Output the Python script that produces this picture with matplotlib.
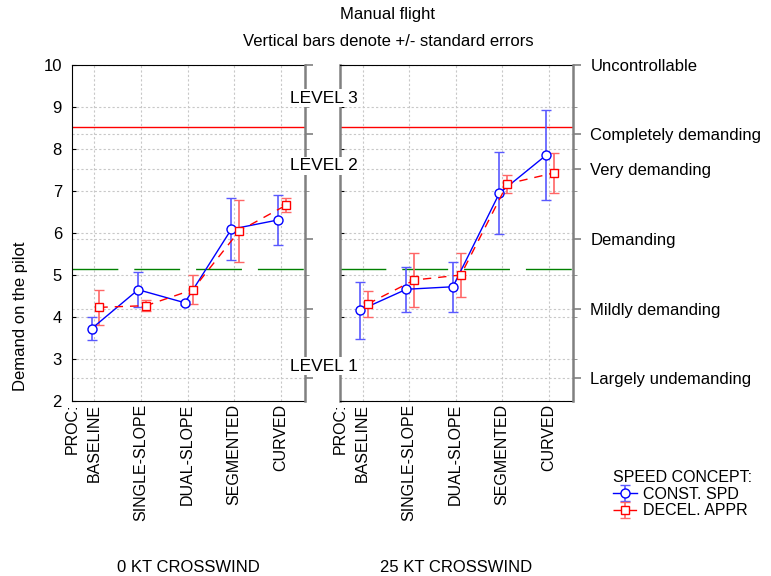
import matplotlib
matplotlib.use("Agg")
import matplotlib.pyplot as plt
import matplotlib.transforms as mtransforms
import numpy as np

plt.rcParams['font.family'] = ['Liberation Sans', 'DejaVu Sans']
plt.rcParams['font.size'] = 12

procedures = ["BASELINE", "SINGLE-SLOPE", "DUAL-SLOPE", "SEGMENTED", "CURVED"]
crosswinds = ["0 KT CROSSWIND", "25 KT CROSSWIND"]

# mean rating and standard error, one list per crosswind panel
const_mean = [[3.72, 4.65, 4.34, 6.09, 6.31], [4.16, 4.66, 4.72, 6.95, 7.85]]
const_se = [[0.27, 0.41, 0.05, 0.74, 0.60], [0.68, 0.53, 0.59, 0.97, 1.07]]
decel_mean = [[4.23, 4.27, 4.65, 6.05, 6.66], [4.31, 4.88, 5.00, 7.17, 7.43]]
decel_se = [[0.42, 0.13, 0.35, 0.74, 0.17], [0.32, 0.65, 0.53, 0.22, 0.48]]

rating_pos = [10, 8.35, 7.52, 5.86, 4.19, 2.54]
rating_labels = ["Uncontrollable", "Completely demanding", "Very demanding",
                 "Demanding", "Mildly demanding", "Largely undemanding"]

levels = ["LEVEL 3", "LEVEL 2", "LEVEL 1"]
level_pos = [9.21, 7.60, 2.83]
level_limit_23 = 8.52
level_limit_12 = 5.14

W, H = 771, 576
fig = plt.figure(figsize=(W / 100, H / 100), dpi=100)


def px_rect(x0, x1, y0, y1):
    return [x0 / W, 1 - y1 / H, (x1 - x0) / W, (y1 - y0) / H]


axes = [fig.add_axes(px_rect(71.7, 305, 65, 401)),
        fig.add_axes(px_rect(340, 573, 65, 401))]
x = np.arange(len(procedures))
blue_e = (0.35, 0.35, 1.0)
red_e = (1.0, 0.4, 0.4)

for i, ax in enumerate(axes):
    ax.set_xlim(-0.485, 4.52)
    ax.set_ylim(2, 10)
    ax.axhline(level_limit_23, color='red', lw=1, zorder=1.5)
    ax.axhline(level_limit_12, color='green', lw=1, dashes=(33, 11.5), zorder=1.5)

    eb1 = ax.errorbar(x - 0.06, const_mean[i], yerr=const_se[i], color='blue', lw=1,
                      marker='o', ms=6.5, mfc='white', mec='blue', mew=1,
                      ecolor=blue_e, elinewidth=1.2, capsize=3.5, capthick=1.2, zorder=3)
    eb2 = ax.errorbar(x + 0.11, decel_mean[i], yerr=decel_se[i], color='red', lw=1,
                      ls=(0, (6, 5)), marker='s', ms=6, mfc='white', mec='red', mew=1,
                      ecolor=red_e, elinewidth=1.2, capsize=3.5, capthick=1.2, zorder=3)

    ax.set_xticks(x)
    ax.set_xticklabels(procedures, rotation=90, fontsize=11.5)
    ax.tick_params(axis='x', length=0, pad=2)
    ax.set_yticks(range(2, 11))
    ax.set_yticks(rating_pos, minor=True)
    ax.tick_params(axis='y', which='minor', length=0, labelleft=False)
    ax.tick_params(axis='y', which='major', direction='in', length=3, pad=7,
                   labelleft=(i == 0))
    ax.grid(True, which='both', color='#c8c8c8', ls=(0, (2, 2)), lw=0.8)
    ax.set_axisbelow(True)
    ax.spines['right'].set_visible(False)
    if i == 1:
        ax.spines['left'].set_color('gray')
        ax.spines['left'].set_linewidth(1.8)

    tw = ax.twinx()
    tw.set_ylim(2, 10)
    tw.set_yticks(rating_pos)
    tw.set_yticks([3, 4, 5, 7, 8, 9], minor=True)
    tw.tick_params(axis='y', which='major', direction='out', length=6, width=1.2,
                   color='gray', pad=6.5)
    tw.tick_params(axis='y', which='minor', direction='out', length=3, color='gray')
    tw.set_yticklabels(rating_labels if i == 1 else [])
    for s in ['left', 'top', 'bottom']:
        tw.spines[s].set_visible(False)
    tw.spines['right'].set_color('gray')
    tw.spines['right'].set_linewidth(1.8)

    trans = mtransforms.blended_transform_factory(ax.transData, ax.transAxes)
    ax.text(-0.47, -0.006, "PROC:", rotation=90, ha='center', va='top',
            transform=trans, fontsize=11.5)
    ax.text(0.5, (401 - 567) / 336, crosswinds[i], transform=ax.transAxes,
            ha='center', va='center')

tr = mtransforms.blended_transform_factory(fig.transFigure, axes[0].transData)
for lbl, pos in zip(levels, level_pos):
    fig.text(324 / W, pos, lbl, transform=tr, ha='center', va='center', fontsize=12.5,
             bbox=dict(fc='white', ec='none', pad=1), zorder=5)

fig.text(388 / W, 1 - 14 / H, "Manual flight", ha='center', va='center')
fig.text(388 / W, 1 - 41 / H, "Vertical bars denote +/- standard errors",
         ha='center', va='center')
fig.text(21 / W, 1 - 316 / H, "Demand on the pilot", rotation=90,
         ha='center', va='center')

fig.legend([eb1, eb2], ["CONST. SPD", "DECEL. APPR"], title="SPEED CONCEPT:",
           loc='upper left', bbox_to_anchor=(605 / W, 1 - 462 / H), frameon=False,
           alignment='left', handlelength=1.5, labelspacing=0.1, borderpad=0,
           handletextpad=0.4, fontsize=11.5, title_fontsize=11.5)

fig.savefig("out.png", dpi=100)
